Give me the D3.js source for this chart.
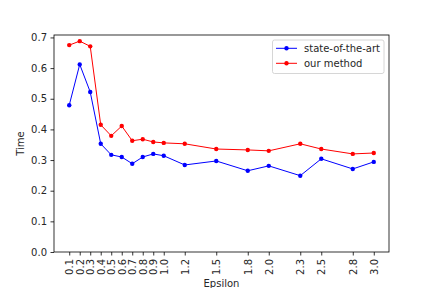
<!DOCTYPE html>
<html>
<head>
<meta charset="utf-8">
<script src="https://cdn.jsdelivr.net/npm/d3@7"></script>
<style>
  body { margin: 0; background: #fff; }
  svg { font-family: "DejaVu Sans", sans-serif; }
</style>
</head>
<body>
<svg id="chart" width="432" height="288"></svg>
<script>
const epsilon = [0.1, 0.2, 0.3, 0.4, 0.5, 0.6, 0.7, 0.8, 0.9, 1.0, 1.2, 1.5, 1.8, 2.0, 2.3, 2.5, 2.8, 3.0];
const stateOfTheArt = [0.479, 0.612, 0.522, 0.353, 0.317, 0.310, 0.288, 0.310, 0.320, 0.314, 0.284, 0.297, 0.265, 0.281, 0.249, 0.304, 0.271, 0.294];
const ourMethod = [0.675, 0.688, 0.671, 0.415, 0.379, 0.411, 0.363, 0.368, 0.359, 0.356, 0.353, 0.336, 0.333, 0.330, 0.353, 0.336, 0.320, 0.323];
const yTicks = [0.0, 0.1, 0.2, 0.3, 0.4, 0.5, 0.6, 0.7];
const seriesNames = ['state-of-the-art', 'our method'];
const seriesColors = ['#0000ff', '#ff0000'];

const svg = d3.select('#chart');
const plot = {left: 54, right: 389, top: 35, bottom: 252};

const x = d3.scaleLinear().domain([-0.045, 3.145]).range([plot.left, plot.right]);
const y = d3.scaleLinear().domain([0, 0.708]).range([plot.bottom, plot.top]);

// axes
const xAxis = svg.append('g')
  .attr('transform', `translate(0,${plot.bottom})`)
  .call(d3.axisBottom(x).tickValues(epsilon).tickFormat(d3.format('.1f')).tickSize(3.5).tickPadding(3.5));
xAxis.selectAll('text')
  .attr('transform', 'rotate(-90)')
  .attr('x', -7)
  .attr('y', 0)
  .attr('dy', '0.35em')
  .style('text-anchor', 'end');

const yAxis = svg.append('g')
  .attr('transform', `translate(${plot.left},0)`)
  .call(d3.axisLeft(y).tickValues(yTicks).tickFormat(d3.format('.1f')).tickSize(3.5).tickPadding(3.5));

svg.selectAll('.domain').remove();
svg.selectAll('.tick line').attr('stroke', '#000').attr('stroke-width', 0.8);
svg.selectAll('.tick text').attr('fill', '#262626').style('font-size', '10px').style('font-family', '"DejaVu Sans", sans-serif');

svg.append('rect')
  .attr('x', plot.left).attr('y', plot.top)
  .attr('width', plot.right - plot.left).attr('height', plot.bottom - plot.top)
  .attr('fill', 'none').attr('stroke', '#000').attr('stroke-width', 0.8);

// series
const allSeries = [stateOfTheArt, ourMethod];
const line = d3.line().x((d, i) => x(epsilon[i])).y(d => y(d));

allSeries.forEach((values, k) => {
  const g = svg.append('g');
  g.append('path')
    .datum(values)
    .attr('d', line)
    .attr('fill', 'none')
    .attr('stroke', seriesColors[k])
    .attr('stroke-width', 1);
  g.selectAll('circle')
    .data(values)
    .enter()
    .append('circle')
    .attr('cx', (d, i) => x(epsilon[i]))
    .attr('cy', d => y(d))
    .attr('r', 2.2)
    .attr('fill', seriesColors[k]);
});

// labels
svg.append('text')
  .attr('x', (plot.left + plot.right) / 2).attr('y', 287)
  .attr('text-anchor', 'middle')
  .style('font-size', '10px')
  .attr('fill', '#262626')
  .text('Epsilon');

svg.append('text')
  .attr('transform', `translate(24,${(plot.top + plot.bottom) / 2}) rotate(-90)`)
  .attr('text-anchor', 'middle')
  .style('font-size', '10px')
  .attr('fill', '#262626')
  .text('Time');

// legend
const legend = svg.append('g');
legend.append('rect')
  .attr('x', 272.5).attr('y', 40)
  .attr('width', 111.5).attr('height', 33.5)
  .attr('rx', 2)
  .attr('fill', '#fff').attr('fill-opacity', 0.8)
  .attr('stroke', '#cccccc').attr('stroke-width', 0.8);

seriesNames.forEach((name, k) => {
  const ly = 48.3 + k * 15;
  legend.append('line')
    .attr('x1', 276).attr('x2', 297)
    .attr('y1', ly).attr('y2', ly)
    .attr('stroke', seriesColors[k]).attr('stroke-width', 1);
  legend.append('circle')
    .attr('cx', 286.5).attr('cy', ly).attr('r', 2.2)
    .attr('fill', seriesColors[k]);
  legend.append('text')
    .attr('x', 304).attr('y', ly)
    .attr('dy', '0.35em')
    .style('font-size', '10px')
    .attr('fill', '#262626')
    .text(name);
});
</script>
</body>
</html>
